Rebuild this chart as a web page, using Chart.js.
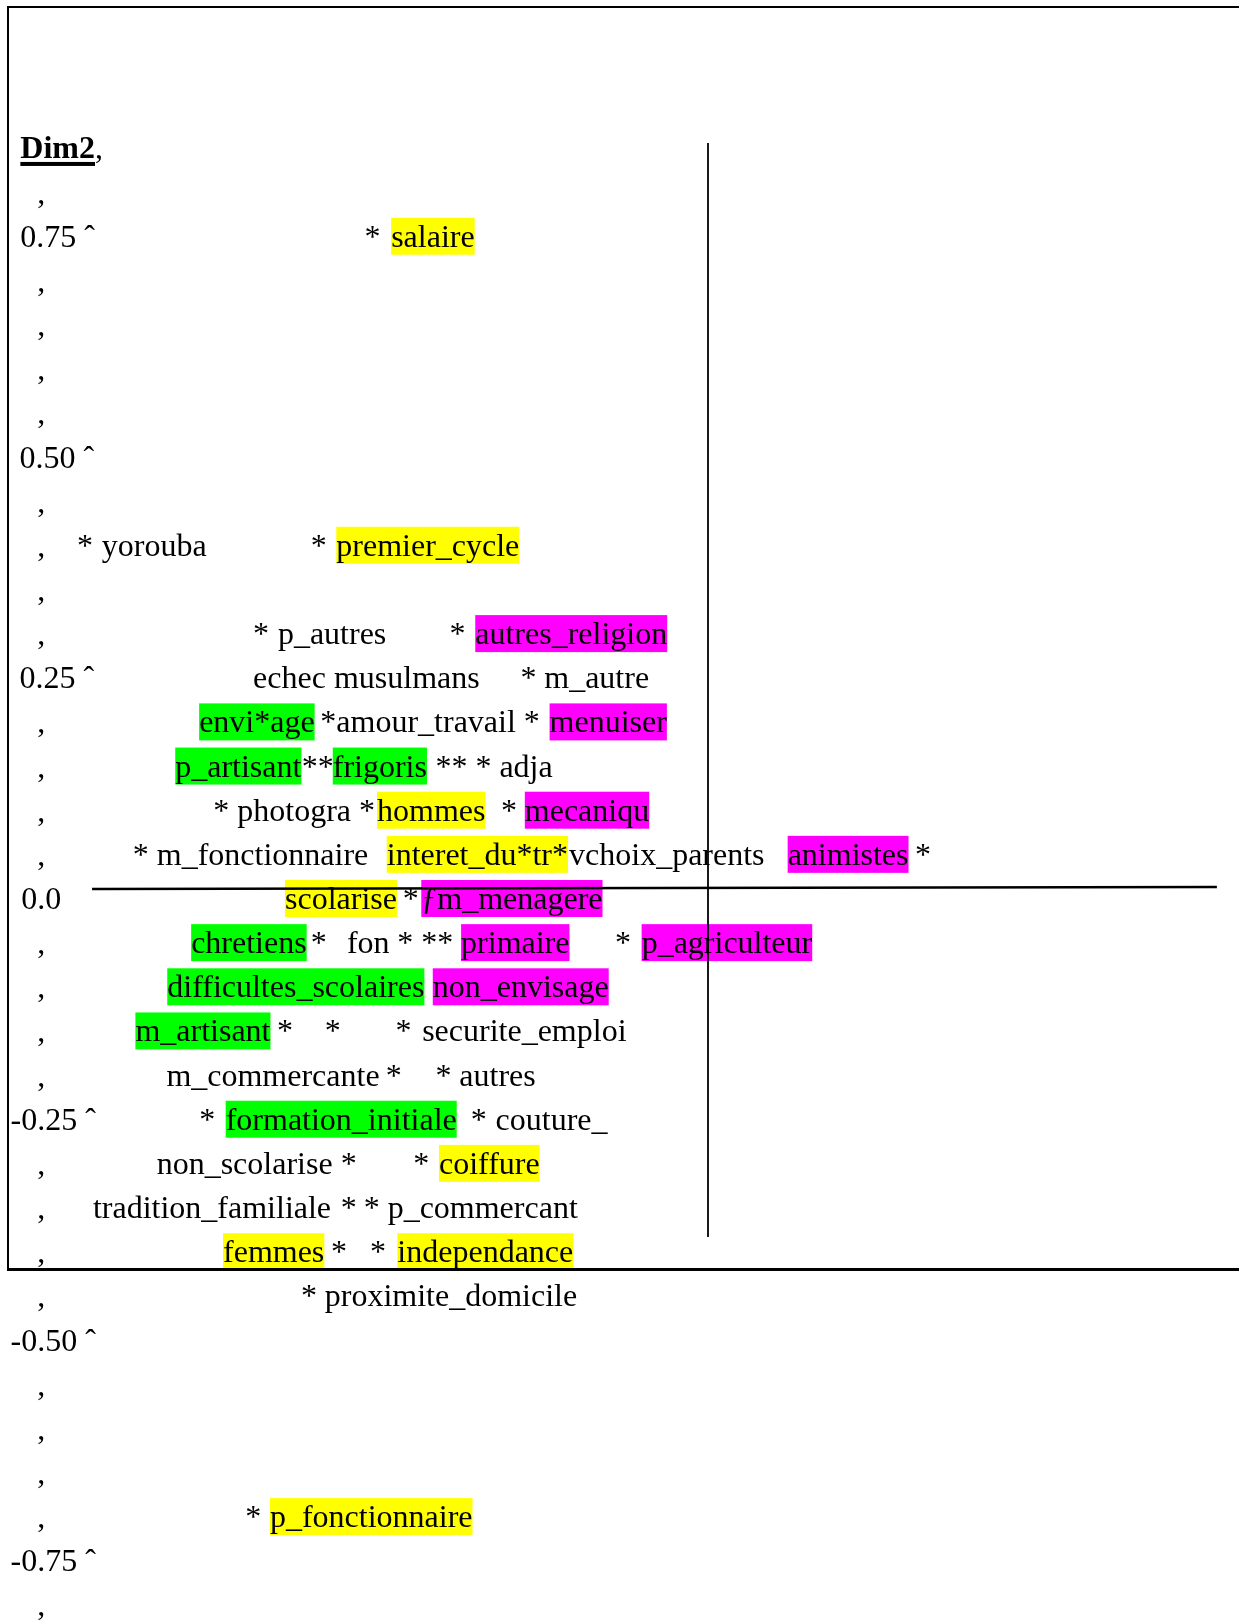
<!DOCTYPE html>
<html>
<head>
<meta charset="utf-8">
<title>Dim2</title>
<script src="https://cdn.jsdelivr.net/npm/chart.js@4/dist/chart.umd.min.js"></script>
<style>
  html, body { margin: 0; padding: 0; background: #ffffff; }
  #plot { display: block; }
</style>
</head>
<body>
<canvas id="plot" width="1239" height="1624"></canvas>
<script>
// Vertical axis: numbered rows and the comma rows in between
const tickValues = [0.75, 0.50, 0.25, 0.0, -0.25, -0.50, -0.75];
const tickLabels = ['0.75 ˆ', '0.50 ˆ', '0.25 ˆ', '0.0', '-0.25 ˆ', '-0.50 ˆ', '-0.75 ˆ'];
const tickDim1   = [-0.777, -0.778, -0.778, -0.776, -0.788, -0.788, -0.788];
const commaRows  = [0.80, 0.70, 0.65, 0.60, 0.55, 0.45, 0.40, 0.35, 0.30, 0.20, 0.15, 0.10, 0.05,
                    -0.05, -0.10, -0.15, -0.20, -0.30, -0.35, -0.40, -0.45, -0.55, -0.60, -0.65, -0.70, -0.80];
const axisTitle  = 'Dim2';
const axisTitleRow = 0.85;

// Modality labels (Dim1, Dim2) and their highlight group
const labelText = ['salaire', 'yorouba', 'premier_cycle', 'p_autres', 'autres_religion',
  'echec musulmans', 'm_autre', 'envi*age', '*amour_travail *', 'menuiser',
  'p_artisant', '**', 'frigoris', '** * adja', '* photogra *', 'hommes', 'mecaniqu',
  '* m_fonctionnaire', 'interet_du*tr*', 'vchoix_parents', 'animistes',
  'scolarise', 'ƒm_menagere', 'chretiens', 'fon', '**', 'primaire', 'p_agriculteur',
  'difficultes_scolaires', 'non_envisage', 'm_artisant', 'securite_emploi',
  'm_commercante', 'autres', 'formation_initiale', 'couture_', 'non_scolarise', 'coiffure',
  'tradition_familiale', 'p_commercant', 'femmes', 'independance', 'proximite_domicile',
  'p_fonctionnaire'];
const labelDim1 = [-0.358, -0.685, -0.420, -0.486, -0.263,
  -0.514, -0.185, -0.575, -0.438, -0.179,
  -0.602, -0.459, -0.424, -0.308, -0.559, -0.374, -0.207,
  -0.650, -0.363, -0.157, 0.090,
  -0.478, -0.324, -0.584, -0.408, -0.324, -0.279, -0.075,
  -0.611, -0.311, -0.647, -0.323,
  -0.612, -0.281, -0.545, -0.240, -0.623, -0.304,
  -0.695, -0.362, -0.548, -0.351, -0.433,
  -0.495];
const labelDim2 = [0.75, 0.40, 0.40, 0.30, 0.30,
  0.25, 0.25, 0.20, 0.20, 0.20,
  0.15, 0.15, 0.15, 0.15, 0.10, 0.10, 0.10,
  0.05, 0.05, 0.05, 0.05,
  0.0, 0.0, -0.05, -0.05, -0.05, -0.05, -0.05,
  -0.10, -0.10, -0.15, -0.15,
  -0.20, -0.20, -0.25, -0.25, -0.30, -0.30,
  -0.35, -0.35, -0.40, -0.40, -0.45,
  -0.70];
const labelGroup = ['Y', '', 'Y', '', 'M',
  '', '', 'G', '', 'M',
  'G', '', 'G', '', '', 'Y', 'M',
  '', 'Y', '', 'M',
  'Y', 'M', 'G', '', '', 'M', 'M',
  'G', 'M', 'G', '',
  '', '', 'G', '', '', 'Y',
  '', '', 'Y', 'Y', '',
  'Y'];

// Point markers (asterisks)
const starDim1 = [-0.388, -0.713, -0.449, -0.514, -0.292, -0.212, -0.234, 0.234, -0.345,
  -0.449, -0.351, -0.105, -0.487, -0.433, -0.353, -0.364, -0.308, -0.575, -0.268,
  -0.415, -0.333, -0.415, -0.389, -0.426, -0.382, -0.460, -0.523];
const starDim2 = [0.75, 0.40, 0.40, 0.30, 0.30, 0.25, 0.10, 0.05, 0.0,
  -0.05, -0.05, -0.05, -0.15, -0.15, -0.15, -0.20, -0.20, -0.25, -0.25,
  -0.30, -0.30, -0.35, -0.35, -0.40, -0.40, -0.45, -0.70];

// Reference axes through the origin
const hAxisDim1 = [-0.696, 0.575];
const hAxisDim2 = [0.0107, 0.0130];
const vAxisDim1 = [0.0, 0.0];
const vAxisDim2 = [0.8556, -0.3834];

const groupColors = { Y: '#ffff00', G: '#00ff00', M: '#ff00ff' };
const FONT = "32px 'Liberation Serif', 'Times New Roman', serif";
const FONT_BOLD = "bold 32px 'Liberation Serif', 'Times New Roman', serif";

const zip = (xs, ys) => xs.map((x, i) => ({ x: x, y: ys[i] }));

// Draws the text layer (highlights, labels, asterisks, row marks) under the axis lines
const textLayer = {
  id: 'textLayer',
  beforeDatasetsDraw(chart) {
    const ctx = chart.ctx;
    const xs = chart.scales.x, ys = chart.scales.y;
    const base = (py) => py + 10.5;
    ctx.save();
    ctx.textAlign = 'left';
    ctx.textBaseline = 'alphabetic';
    ctx.font = FONT;

    const labels = chart.getDatasetMeta(0).data;
    labels.forEach((el, i) => {
      const g = labelGroup[i];
      if (g) {
        const w = ctx.measureText(labelText[i]).width;
        ctx.fillStyle = groupColors[g];
        ctx.fillRect(el.x, el.y - 18.5, w, 37);
      }
    });
    ctx.fillStyle = '#000';
    labels.forEach((el, i) => ctx.fillText(labelText[i], el.x, base(el.y)));

    chart.getDatasetMeta(1).data.forEach(el => ctx.fillText('*', el.x, base(el.y)));

    tickValues.forEach((v, i) => {
      ctx.fillText(tickLabels[i], xs.getPixelForValue(tickDim1[i]), base(ys.getPixelForValue(v)));
    });
    const commaX = xs.getPixelForValue(-0.758);
    commaRows.forEach(v => ctx.fillText(',', commaX, base(ys.getPixelForValue(v))));

    // axis title, bold and underlined
    const tx = xs.getPixelForValue(-0.777);
    const ty = base(ys.getPixelForValue(axisTitleRow));
    ctx.font = FONT_BOLD;
    const tw = ctx.measureText(axisTitle).width;
    ctx.fillText(axisTitle, tx, ty);
    ctx.fillRect(tx, ty + 3.5, tw, 4);
    ctx.font = FONT;
    ctx.fillText(',', tx + tw, ty);
    ctx.restore();
  },
  afterDraw(chart) {
    // page frame around the plot
    const ctx = chart.ctx;
    const W = chart.width;
    ctx.save();
    ctx.fillStyle = '#000';
    ctx.fillRect(7, 6, W - 7, 2);
    ctx.fillRect(7, 6, 2, 1265);
    ctx.fillRect(7, 1268, W - 7, 3);
    ctx.restore();
  }
};

new Chart(document.getElementById('plot'), {
  type: 'scatter',
  data: {
    datasets: [
      { label: 'modalites', data: zip(labelDim1, labelDim2), pointRadius: 0, showLine: false },
      { label: 'points', data: zip(starDim1, starDim2), pointRadius: 0, showLine: false },
      { label: 'axe1', data: zip(hAxisDim1, hAxisDim2), showLine: true, pointRadius: 0,
        borderColor: '#000', borderWidth: 2.5, fill: false },
      { label: 'axe2', data: zip(vAxisDim1, vAxisDim2), showLine: true, pointRadius: 0,
        borderColor: '#000', borderWidth: 1.8, fill: false }
    ]
  },
  options: {
    responsive: false,
    animation: false,
    events: [],
    layout: { padding: { top: 15.5, bottom: 19.1, left: 0, right: 0 } },
    scales: {
      x: { type: 'linear', min: -0.8, max: 0.6, display: false },
      y: { type: 'linear', min: -0.8, max: 1.0, display: false }
    },
    plugins: { legend: { display: false }, tooltip: { enabled: false } }
  },
  plugins: [textLayer]
});
</script>
</body>
</html>
